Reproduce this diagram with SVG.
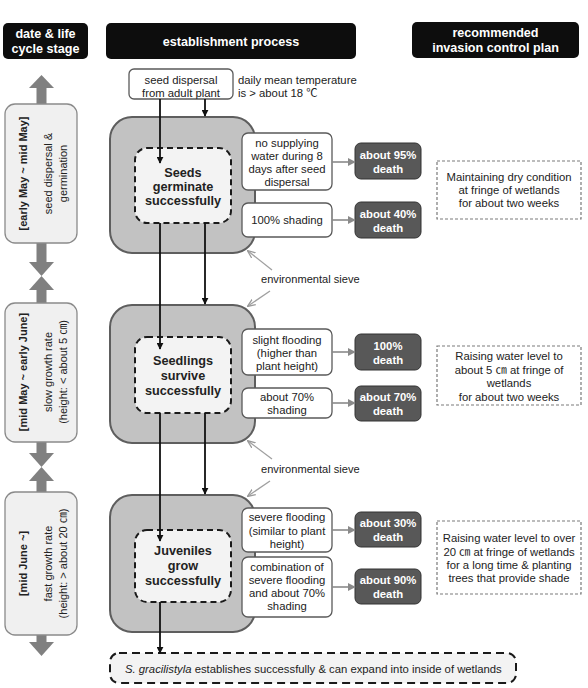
<svg xmlns="http://www.w3.org/2000/svg" width="588" height="688" viewBox="0 0 588 688">
<defs>
<marker id="ab" viewBox="0 0 10 10" refX="9" refY="5" markerWidth="7" markerHeight="7" markerUnits="userSpaceOnUse" orient="auto"><path d="M0,0 L10,5 L0,10 z" fill="#111"/></marker>
<marker id="ag" viewBox="0 0 10 10" refX="9" refY="5" markerWidth="8" markerHeight="8" markerUnits="userSpaceOnUse" orient="auto"><path d="M0,0 L10,5 L0,10 z" fill="#8a8a8a"/></marker>
<marker id="as" viewBox="0 0 10 10" refX="9" refY="5" markerWidth="8" markerHeight="8" markerUnits="userSpaceOnUse" orient="auto"><path d="M0,1 L10,5 L0,9" fill="none" stroke="#9a9a9a" stroke-width="1.6"/></marker>
</defs>
<style>
text{font-family:"Liberation Sans","Noto Sans CJK KR",Arial,sans-serif;fill:#222}
.hd{fill:#0d0d0d}
.ht{fill:#fff;font-weight:bold;font-size:12.6px;text-anchor:middle}
.st{fill:#f0f0f0;stroke:#8a8a8a;stroke-width:1.3}
.gb{fill:#c2c2c2;stroke:#5e5e5e;stroke-width:2}
.db{fill:#f3f3f3;stroke:#1a1a1a;stroke-width:2;stroke-dasharray:6,4}
.cb{fill:#fff;stroke:#5a5a5a;stroke-width:1.3}
.dt{fill:#585858;stroke:#333;stroke-width:1}
.pb{fill:none;stroke:#7a7a7a;stroke-width:1.2;stroke-dasharray:3,2}
.bt{font-weight:bold;font-size:12.7px;text-anchor:middle}
.ct{font-size:11.3px;text-anchor:middle}
.wt{fill:#fff;font-weight:bold;font-size:11.3px;text-anchor:middle}
.rt{font-size:11px;text-anchor:middle}
.rb{font-weight:bold;font-size:11px;text-anchor:middle}
.ga{fill:#808080}
.bl{stroke:#111;stroke-width:1.8;fill:none;marker-end:url(#ab)}
.gl{stroke:#8a8a8a;stroke-width:1.6;fill:none;marker-end:url(#ag)}
.sl{stroke:#a0a0a0;stroke-width:1.3;fill:none;marker-end:url(#as)}
</style>

<g id="headers">
<rect class="hd" x="3" y="23" width="85" height="36" rx="5"/>
<text class="ht" x="45.5" y="38">date &amp; life</text>
<text class="ht" x="45.5" y="53">cycle stage</text>
<rect class="hd" x="106" y="23" width="250" height="36" rx="5"/>
<text class="ht" x="231" y="46">establishment process</text>
<rect class="hd" x="412" y="22" width="167" height="36" rx="5"/>
<text class="ht" x="495.5" y="37">recommended</text>
<text class="ht" x="495.5" y="52">invasion control plan</text>
</g>

<g id="timeline-arrows">
<rect class="ga" x="36.5" y="87" width="10" height="18"/>
<polygon class="ga" points="29,88 54,88 41.5,75"/>
<rect class="ga" x="36.5" y="242" width="10" height="21"/>
<polygon class="ga" points="29,262 54,262 41.5,276"/>
<polygon class="ga" points="29,290 54,290 41.5,276"/>
<rect class="ga" x="36.5" y="289" width="10" height="15"/>
<rect class="ga" x="36.5" y="441" width="10" height="13"/>
<polygon class="ga" points="29,453 54,453 41.5,467"/>
<polygon class="ga" points="29,481 54,481 41.5,467"/>
<rect class="ga" x="36.5" y="480" width="10" height="13"/>
<rect class="ga" x="36.5" y="634" width="10" height="9"/>
<polygon class="ga" points="29,642 54,642 41.5,656"/>
</g>

<g id="stage1">
<rect class="st" x="5" y="104" width="72" height="139" rx="10"/>
<text class="rb" transform="translate(27,173.5) rotate(-90)">[early May ~ mid May]</text>
<text class="rt" transform="translate(52,173.5) rotate(-90)">seed dispersal &amp;</text>
<text class="rt" transform="translate(67,173.5) rotate(-90)">germination</text>
</g>
<g id="stage2">
<rect class="st" x="5" y="303" width="72" height="139" rx="10"/>
<text class="rb" transform="translate(27,372) rotate(-90)">[mid May ~ early June]</text>
<text class="rt" transform="translate(52,372) rotate(-90)">slow growth rate</text>
<text class="rt" transform="translate(67,372) rotate(-90)">(height: &lt; about 5 ㎝)</text>
</g>
<g id="stage3">
<rect class="st" x="5" y="492" width="72" height="143" rx="10"/>
<text class="rb" transform="translate(27,563.5) rotate(-90)">[mid June ~]</text>
<text class="rt" transform="translate(52,563.5) rotate(-90)">fast growth rate</text>
<text class="rt" transform="translate(67,563.5) rotate(-90)">(height: &gt; about 20 ㎝)</text>
</g>

<g id="seed-dispersal">
<rect class="cb" x="129" y="69" width="104" height="30" rx="5"/>
<text class="ct" x="181" y="84">seed dispersal</text>
<text class="ct" x="181" y="97">from adult plant</text>
</g>
<g id="temperature-note">
<text font-size="11.3" x="238" y="84">daily mean temperature</text>
<text font-size="11.3" x="238" y="97">is &gt; about 18 ℃</text>
</g>

<g id="sieve1">
<rect class="gb" x="110" y="117" width="145" height="136" rx="22"/>
</g>
<g id="seeds-germinate">
<rect class="db" x="135" y="148" width="96" height="75" rx="12"/>
<text class="bt" x="183" y="177">Seeds</text>
<text class="bt" x="183" y="191">germinate</text>
<text class="bt" x="183" y="205">successfully</text>
</g>
<g id="cond1a">
<rect class="cb" x="242" y="133" width="90" height="57" rx="6"/>
<text class="ct" x="287" y="147">no supplying</text>
<text class="ct" x="287" y="160">water during 8</text>
<text class="ct" x="287" y="173">days after seed</text>
<text class="ct" x="287" y="186">dispersal</text>
</g>
<g id="cond1b">
<rect class="cb" x="242" y="203" width="90" height="34" rx="6"/>
<text class="ct" x="287" y="224">100% shading</text>
</g>
<g id="death1a">
<rect class="dt" x="355" y="143" width="66" height="36" rx="6"/>
<text class="wt" x="388" y="159">about 95%</text>
<text class="wt" x="388" y="173">death</text>
</g>
<g id="death1b">
<rect class="dt" x="355" y="202" width="66" height="36" rx="6"/>
<text class="wt" x="388" y="218">about 40%</text>
<text class="wt" x="388" y="232">death</text>
</g>
<g id="plan1">
<rect class="pb" x="437" y="161" width="144" height="58"/>
<text class="ct" x="509" y="181">Maintaining dry condition</text>
<text class="ct" x="509" y="194">at fringe of wetlands</text>
<text class="ct" x="509" y="207">for about two weeks</text>
</g>

<g id="sieve2">
<rect class="gb" x="110" y="305" width="145" height="138" rx="22"/>
</g>
<g id="seedlings-survive">
<rect class="db" x="135" y="337" width="96" height="76" rx="12"/>
<text class="bt" x="183" y="365">Seedlings</text>
<text class="bt" x="183" y="380">survive</text>
<text class="bt" x="183" y="395">successfully</text>
</g>
<g id="cond2a">
<rect class="cb" x="242" y="329" width="90" height="46" rx="6"/>
<text class="ct" x="287" y="344">slight flooding</text>
<text class="ct" x="287" y="357">(higher than</text>
<text class="ct" x="287" y="370">plant height)</text>
</g>
<g id="cond2b">
<rect class="cb" x="242" y="388" width="90" height="30" rx="6"/>
<text class="ct" x="287" y="401">about 70%</text>
<text class="ct" x="287" y="414">shading</text>
</g>
<g id="death2a">
<rect class="dt" x="355" y="334" width="66" height="36" rx="6"/>
<text class="wt" x="388" y="350">100%</text>
<text class="wt" x="388" y="364">death</text>
</g>
<g id="death2b">
<rect class="dt" x="355" y="386" width="66" height="35" rx="6"/>
<text class="wt" x="388" y="401">about 70%</text>
<text class="wt" x="388" y="415">death</text>
</g>
<g id="plan2">
<rect class="pb" x="437" y="346" width="144" height="59"/>
<text class="ct" x="509" y="360">Raising water level to</text>
<text class="ct" x="509" y="374">about 5 ㎝ at fringe of</text>
<text class="ct" x="509" y="387">wetlands</text>
<text class="ct" x="509" y="401">for about two weeks</text>
</g>

<g id="sieve3">
<rect class="gb" x="110" y="495" width="145" height="137" rx="22"/>
</g>
<g id="juveniles-grow">
<rect class="db" x="135" y="530" width="96" height="72" rx="12"/>
<text class="bt" x="183" y="555">Juveniles</text>
<text class="bt" x="183" y="570">grow</text>
<text class="bt" x="183" y="585">successfully</text>
</g>
<g id="cond3a">
<rect class="cb" x="242" y="508" width="90" height="44" rx="6"/>
<text class="ct" x="287" y="521">severe flooding</text>
<text class="ct" x="287" y="535">(similar to plant</text>
<text class="ct" x="287" y="548">height)</text>
</g>
<g id="cond3b">
<rect class="cb" x="242" y="557" width="90" height="60" rx="6"/>
<text class="ct" x="287" y="571">combination of</text>
<text class="ct" x="287" y="584">severe flooding</text>
<text class="ct" x="287" y="597">and about 70%</text>
<text class="ct" x="287" y="610">shading</text>
</g>
<g id="death3a">
<rect class="dt" x="355" y="512" width="66" height="35" rx="6"/>
<text class="wt" x="388" y="527">about 30%</text>
<text class="wt" x="388" y="541">death</text>
</g>
<g id="death3b">
<rect class="dt" x="355" y="569" width="66" height="35" rx="6"/>
<text class="wt" x="388" y="584">about 90%</text>
<text class="wt" x="388" y="598">death</text>
</g>
<g id="plan3">
<rect class="pb" x="437" y="521" width="144" height="73"/>
<text class="ct" x="509" y="542">Raising water level to over</text>
<text class="ct" x="509" y="556">20 ㎝ at fringe of wetlands</text>
<text class="ct" x="509" y="569">for a long time &amp; planting</text>
<text class="ct" x="509" y="582">trees that provide shade</text>
</g>

<g id="sieve-labels">
<text font-size="11.1" x="261" y="283">environmental sieve</text>
<text font-size="11.1" x="261" y="473">environmental sieve</text>
</g>

<g id="final">
<rect x="110" y="653" width="406" height="30" rx="9" fill="#f3f3f3" stroke="#1a1a1a" stroke-width="2" stroke-dasharray="8,5"/>
<text font-size="11.3" x="125" y="673"><tspan font-style="italic">S. gracilistyla</tspan> establishes successfully &amp; can expand into inside of wetlands</text>
</g>

<g id="connectors">
<line class="bl" x1="160" y1="99" x2="160" y2="163"/>
<line class="bl" x1="205" y1="99" x2="205" y2="116"/>
<line class="bl" x1="160" y1="223" x2="160" y2="349"/>
<line class="bl" x1="205" y1="223" x2="205" y2="304"/>
<line class="bl" x1="160" y1="413" x2="160" y2="541"/>
<line class="bl" x1="205" y1="413" x2="205" y2="494"/>
<line class="bl" x1="160" y1="602" x2="160" y2="653"/>
<line class="gl" x1="332" y1="162" x2="355" y2="162"/>
<line class="gl" x1="332" y1="220" x2="355" y2="220"/>
<line class="gl" x1="332" y1="352" x2="355" y2="352"/>
<line class="gl" x1="332" y1="403" x2="355" y2="403"/>
<line class="gl" x1="332" y1="530" x2="355" y2="530"/>
<line class="gl" x1="332" y1="587" x2="355" y2="587"/>
<line class="sl" x1="272" y1="270" x2="248" y2="251"/>
<line class="sl" x1="270" y1="291" x2="248" y2="306"/>
<line class="sl" x1="272" y1="459" x2="248" y2="441"/>
<line class="sl" x1="270" y1="481" x2="248" y2="496"/>
</g>
</svg>
